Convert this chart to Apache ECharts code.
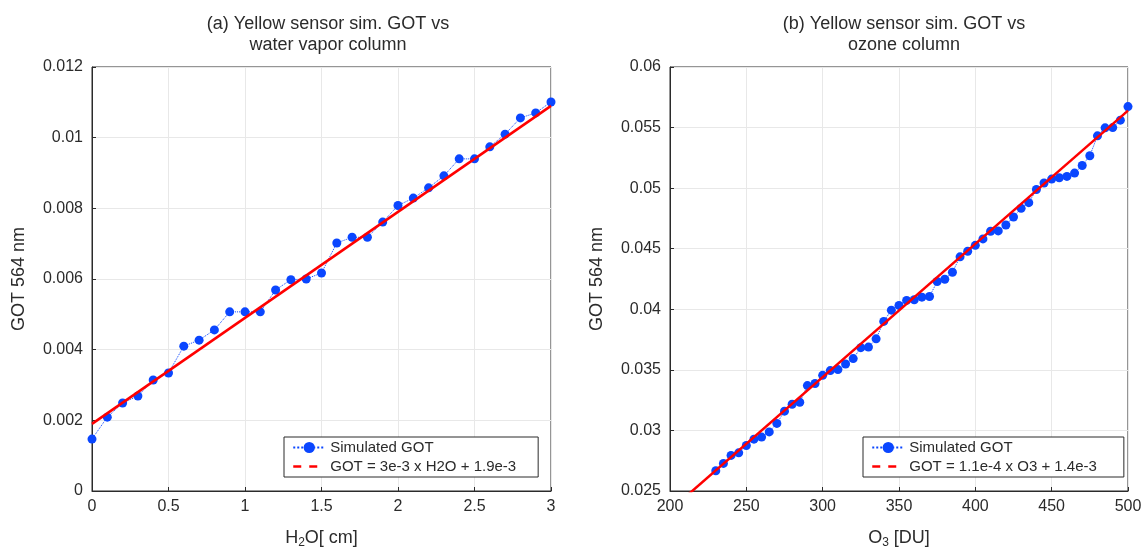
<!DOCTYPE html>
<html>
<head>
<meta charset="utf-8">
<script src="https://cdn.jsdelivr.net/npm/echarts@6/dist/echarts.min.js"></script>
<style>
  html, body { margin: 0; padding: 0; background: #fff; }
  #chart { width: 1143px; height: 548px; }
</style>
</head>
<body>
<div id="chart"></div>
<script>
// Water vapour column [cm] and simulated GOT at 564 nm
const h2oCm = [0, 0.1, 0.2, 0.3, 0.4, 0.5, 0.6, 0.7, 0.8, 0.9, 1.0, 1.1, 1.2, 1.3, 1.4, 1.5,
  1.6, 1.7, 1.8, 1.9, 2.0, 2.1, 2.2, 2.3, 2.4, 2.5, 2.6, 2.7, 2.8, 2.9, 3.0];
const gotH2o = [0.00147, 0.00209, 0.00249, 0.00269, 0.00314, 0.00334, 0.00410, 0.00427, 0.00456,
  0.00507, 0.00507, 0.00507, 0.00569, 0.00598, 0.00600, 0.00617, 0.00702, 0.00718, 0.00718,
  0.00761, 0.00808, 0.00829, 0.00858, 0.00892, 0.00940, 0.00940, 0.00974, 0.01010, 0.01056,
  0.01070, 0.01101];

// Ozone column [DU] and simulated GOT at 564 nm
const o3Du = [230, 235, 240, 245, 250, 255, 260, 265, 270, 275, 280, 285, 290, 295, 300, 305,
  310, 315, 320, 325, 330, 335, 340, 345, 350, 355, 360, 365, 370, 375, 380, 385, 390, 395,
  400, 405, 410, 415, 420, 425, 430, 435, 440, 445, 450, 455, 460, 465, 470, 475, 480, 485,
  490, 495, 500];
const gotO3 = [0.02667, 0.02728, 0.02794, 0.02815, 0.02876, 0.02928, 0.02945, 0.02988, 0.03058,
  0.03159, 0.03216, 0.03233, 0.03370, 0.03387, 0.03455, 0.03494, 0.03502, 0.03548, 0.03593,
  0.03683, 0.03688, 0.03756, 0.03900, 0.03993, 0.04032, 0.04073, 0.04079, 0.04100, 0.04106,
  0.04229, 0.04248, 0.04306, 0.04433, 0.04479, 0.04528, 0.04581, 0.04644, 0.04647, 0.04696,
  0.04762, 0.04833, 0.04880, 0.04989, 0.05042, 0.05075, 0.05086, 0.05097, 0.05124, 0.05187,
  0.05267, 0.05432, 0.05498, 0.05500, 0.05561, 0.05673];

// Linear fits as written in the legends
const fitH2o = { slope: 3e-3, intercept: 1.9e-3, from: 0, to: 3 };
const fitO3 = { slope: 1.1e-4, intercept: 1.4e-3, from: 200, to: 500 };

const titles = ['(a) Yellow sensor sim. GOT vs\nwater vapor column', '(b) Yellow sensor sim. GOT vs\nozone column'];
const fitNames = ['GOT = 3e-3 x H2O + 1.9e-3', 'GOT = 1.1e-4 x O3 + 1.4e-3'];
const pointName = 'Simulated GOT';

const FONT = 'Liberation Sans, Arial, Helvetica, sans-serif';
const TXT = '#2b2b2b';
const BLUE = '#0a46ff';
const RED = '#ff0000';

const pair = (xs, ys) => xs.map((x, i) => [x, ys[i]]);
const fitLine = f => [[f.from, f.slope * f.from + f.intercept], [f.to, f.slope * f.to + f.intercept]];

const grids = [
  { left: 92, top: 67, width: 459, height: 424 },
  { left: 670, top: 67, width: 458, height: 424 }
];

function xAxis(idx, min, max, interval, nameRich) {
  return {
    type: 'value', gridIndex: idx, min, max, interval,
    name: nameRich, nameLocation: 'middle', nameGap: 36,
    nameTextStyle: {
      color: TXT, fontSize: 18, fontFamily: FONT,
      rich: { sub: { fontSize: 12, verticalAlign: 'bottom', padding: [10, 0, 0, 0], color: TXT, fontFamily: FONT },
              n: { fontSize: 18, color: TXT, fontFamily: FONT } }
    },
    axisLine: { onZero: false, lineStyle: { color: TXT, width: 1 } },
    axisTick: { inside: true, length: 4, lineStyle: { color: TXT } },
    axisLabel: { color: TXT, fontSize: 16, fontFamily: FONT, margin: 8 },
    splitLine: { show: true, lineStyle: { color: '#e8e8e8', width: 1 } }
  };
}
function yAxis(idx, min, max, interval) {
  return {
    type: 'value', gridIndex: idx, min, max, interval,
    name: 'GOT 564 nm', nameLocation: 'middle', nameGap: 64, nameRotate: 90,
    nameTextStyle: { color: TXT, fontSize: 18, fontFamily: FONT },
    axisLine: { show: true, onZero: false, lineStyle: { color: TXT, width: 1 } },
    axisTick: { show: true, inside: true, length: 4, lineStyle: { color: TXT } },
    axisLabel: {
      color: TXT, fontSize: 16, fontFamily: FONT, margin: 9,
      formatter: v => String(parseFloat(v.toFixed(4)))
    },
    splitLine: { show: true, lineStyle: { color: '#e8e8e8', width: 1 } }
  };
}

function pointSeries(idx, data) {
  return {
    name: pointName, type: 'line', xAxisIndex: idx, yAxisIndex: idx, data,
    symbol: 'circle', symbolSize: 9, showSymbol: true,
    lineStyle: { color: BLUE, width: 1, type: 'dotted' },
    itemStyle: { color: BLUE, borderWidth: 0 },
    emphasis: { disabled: true }, animation: false, z: 3
  };
}
function fitSeries(idx, name, data) {
  return {
    name, type: 'line', xAxisIndex: idx, yAxisIndex: idx, data,
    symbol: 'none', clip: true,
    lineStyle: { color: RED, width: 2.5, type: 'solid' },
    itemStyle: { color: RED },
    emphasis: { disabled: true }, animation: false, z: 4
  };
}

// Legend: dotted line with marker for the points, dashed red swatch for the fit
function legend(left, fitName, padRight) {
  return {
    orient: 'vertical', left, top: 437,
    data: [
      pointName,
      { name: fitName, itemStyle: { opacity: 0 }, lineStyle: { color: RED, type: [8, 8], width: 2.5 } }
    ],
    selectedMode: false,
    backgroundColor: '#fff', borderColor: '#2b2b2b', borderWidth: 1,
    padding: [3, padRight, 3, 8], itemGap: 4, itemWidth: 32, itemHeight: 14,
    textStyle: { color: TXT, fontSize: 15, fontFamily: FONT }
  };
}

const titleStyle = { color: TXT, fontSize: 18, fontWeight: 'normal', fontFamily: FONT, lineHeight: 21 };

const option = {
  animation: false,
  backgroundColor: '#fff',
  title: [
    { text: titles[0], left: 323, top: 9, textAlign: 'center', textStyle: titleStyle },
    { text: titles[1], left: 899, top: 9, textAlign: 'center', textStyle: titleStyle }
  ],
  grid: grids.map(g => Object.assign({
    show: true, borderColor: TXT, borderWidth: 1, backgroundColor: 'transparent',
    outerBoundsMode: 'none', containLabel: false
  }, g)),
  xAxis: [
    xAxis(0, 0, 3, 0.5, '{n|H}{sub|2}{n|O[ cm]}'),
    xAxis(1, 200, 500, 50, '{n|O}{sub|3}{n| [DU]}')
  ],
  yAxis: [
    yAxis(0, 0, 0.012, 0.002),
    yAxis(1, 0.025, 0.06, 0.005)
  ],
  legend: [
    legend(284, fitNames[0], 22),
    legend(863, fitNames[1], 27)
  ],
  series: [
    pointSeries(0, pair(h2oCm, gotH2o)),
    fitSeries(0, fitNames[0], fitLine(fitH2o)),
    pointSeries(1, pair(o3Du, gotO3)),
    fitSeries(1, fitNames[1], fitLine(fitO3))
  ]
};

const chart = echarts.init(document.getElementById('chart'), null, { renderer: 'canvas' });
chart.setOption(option);
</script>
</body>
</html>
